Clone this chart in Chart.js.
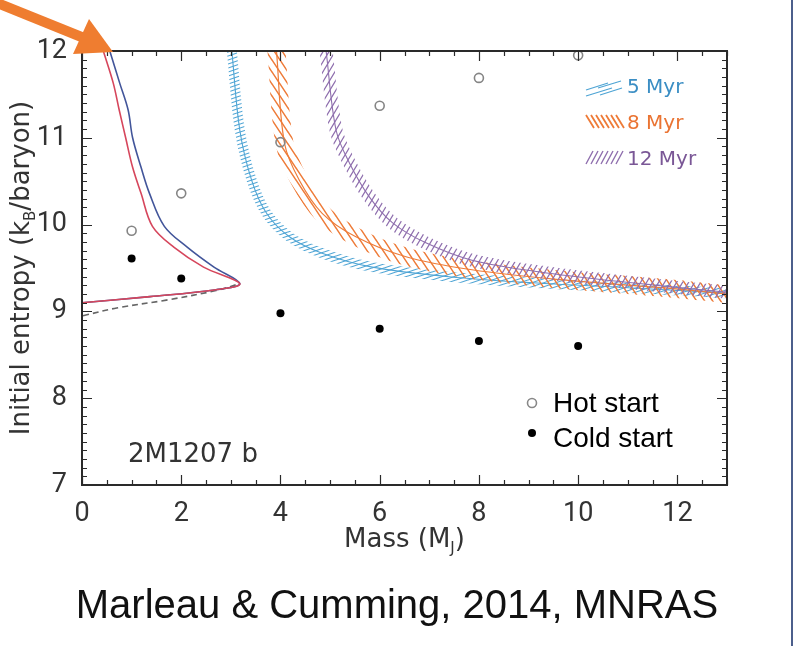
<!DOCTYPE html>
<html>
<head>
<meta charset="utf-8">
<title>2M1207 b initial entropy</title>
<script src="https://cdn.jsdelivr.net/npm/chart.js@4.4.1/dist/chart.umd.min.js"></script>
<style>
  html, body { margin: 0; padding: 0; background: #fff; overflow: hidden; }
  #wrap { position: relative; width: 794px; height: 646px; }
  #entropyChart { display: block; }
</style>
</head>
<body>
<div id="wrap"><canvas id="entropyChart" width="794" height="646"></canvas></div>
<script>
// evolutionary models for 2M1207 b
var hotMass = [1, 2, 4, 6, 8, 10];
var hotEntropy = [9.93, 10.36, 10.95, 11.37, 11.69, 11.95];
var coldMass = [1, 2, 4, 6, 8, 10];
var coldEntropy = [9.61, 9.38, 8.98, 8.80, 8.66, 8.60];

// luminosity constraint, upper and lower bound
var lumBlueMass = [0.56, 0.76, 0.93, 1.02, 1.19, 1.36, 1.66, 2.12, 2.66, 3.18, 2.7, 1.37, 0];
var lumBlueEntropy = [12.0, 11.63, 11.32, 11.0, 10.66, 10.36, 9.98, 9.74, 9.51, 9.32, 9.25, 9.17, 9.10];
var lumRedMass = [0.43, 0.63, 0.75, 0.88, 1.02, 1.19, 1.42, 1.85, 2.45, 3.18, 2.7, 1.37, 0];
var lumRedEntropy = [12.0, 11.63, 11.32, 11.0, 10.66, 10.36, 9.98, 9.74, 9.51, 9.32, 9.25, 9.17, 9.10];
var lumDashMass = [0.02, 0.7, 1.7, 2.7, 3.18];
var lumDashEntropy = [8.95, 9.04, 9.13, 9.24, 9.32];

// age isochrones
var myr5Mass = [3.02, 3.18, 3.42, 3.72, 4.18, 4.84, 5.85, 7.4, 9.07, 11.08, 13];
var myr5Entropy = [12.0, 11.09, 10.51, 10.13, 9.86, 9.67, 9.51, 9.40, 9.33, 9.27, 9.21];
var myr8Mass = [3.92, 4.08, 4.38, 4.84, 5.52, 6.53, 7.86, 9.75, 11.76, 13];
var myr8Entropy = [12.0, 10.94, 10.51, 10.13, 9.86, 9.63, 9.48, 9.36, 9.27, 9.20];
var myr12Mass = [4.92, 5.12, 5.39, 5.79, 6.26, 6.93, 7.86, 9.41, 11.08, 13];
var myr12Entropy = [12.0, 11.09, 10.71, 10.32, 10.02, 9.79, 9.59, 9.44, 9.33, 9.22];

var ageLabels = ['5 Myr', '8 Myr', '12 Myr'];
var ageColors = ['#4fa5d5', '#ee7b38', '#8f6fae'];
var ageText = ['#3b8ec4', '#ea7433', '#7a5796'];
var sampleLabels = ['Hot start', 'Cold start'];

function pts(xs, ys) {
  var out = [];
  for (var i = 0; i < xs.length; i++) out.push({x: xs[i], y: ys[i]});
  return out;
}

// repeating line-fill tile; a thick stroke painted with it gives a hatched band
function hatch(color, w, h, rising, lw) {
  var c = document.createElement('canvas');
  c.width = w; c.height = h;
  var g = c.getContext('2d');
  g.strokeStyle = color;
  g.lineWidth = lw;
  g.beginPath();
  for (var ox = -w; ox <= w; ox += w) {
    for (var oy = -h; oy <= h; oy += h) {
      if (rising) { g.moveTo(ox, oy + h); g.lineTo(ox + w, oy); }
      else { g.moveTo(ox, oy); g.lineTo(ox + w, oy + h); }
    }
  }
  g.stroke();
  return g.createPattern(c, 'repeat');
}

function curve(data, color, width, dash, order) {
  return {
    data: data,
    showLine: true,
    borderColor: color,
    borderWidth: width,
    borderDash: dash || [],
    pointRadius: 0,
    tension: 0.35,
    fill: false,
    clip: 0,
    order: order
  };
}

var FONT = '"DejaVu Sans", sans-serif';

// ticks pointing into the box on all four sides, plus the frame
var framePlugin = {
  id: 'framePlugin',
  afterDatasetsDraw: function (chart) {
    var ctx = chart.ctx, a = chart.chartArea;
    var sx = chart.scales.x, sy = chart.scales.y;
    ctx.save();
    ctx.strokeStyle = '#2a2a2a';
    ctx.lineWidth = 1.2;
    ctx.beginPath();
    for (var i = 0; i <= 26; i++) {
      var px = Math.round(sx.getPixelForValue(i / 2)) + 0.5;
      var len = (i % 4 === 0) ? 10 : 5;
      ctx.moveTo(px, a.bottom); ctx.lineTo(px, a.bottom - len);
      ctx.moveTo(px, a.top); ctx.lineTo(px, a.top + len);
    }
    for (var j = 70; j <= 120; j++) {
      var py = Math.round(sy.getPixelForValue(j / 10)) + 0.5;
      var l2 = (j % 10 === 0) ? 10 : 5;
      ctx.moveTo(a.left, py); ctx.lineTo(a.left + l2, py);
      ctx.moveTo(a.right, py); ctx.lineTo(a.right - l2, py);
    }
    ctx.stroke();
    ctx.lineWidth = 2;
    ctx.strokeRect(a.left, a.top, a.right - a.left, a.bottom - a.top);
    ctx.restore();
  }
};

// text with a lowered subscript part, centred on x
function subText(ctx, parts, x, y) {
  var total = 0, widths = [];
  parts.forEach(function (p) {
    ctx.font = (p.sub ? '15px ' : '26px ') + FONT;
    var w = ctx.measureText(p.t).width;
    widths.push(w); total += w;
  });
  var cx = x - total / 2;
  parts.forEach(function (p, k) {
    ctx.font = (p.sub ? '15px ' : '26px ') + FONT;
    ctx.fillText(p.t, cx, y + (p.sub ? 6 : 0));
    cx += widths[k];
  });
}

var notesPlugin = {
  id: 'notesPlugin',
  afterDraw: function (chart) {
    var ctx = chart.ctx, a = chart.chartArea;
    ctx.save();
    ctx.fillStyle = '#333';
    ctx.textAlign = 'left';
    ctx.textBaseline = 'alphabetic';

    // axis titles
    subText(ctx, [{t: 'Mass (M'}, {t: 'J', sub: true}, {t: ')'}], (a.left + a.right) / 2, 547);
    ctx.save();
    ctx.translate(29, (a.top + a.bottom) / 2);
    ctx.rotate(-Math.PI / 2);
    subText(ctx, [{t: 'Initial entropy (k'}, {t: 'B', sub: true}, {t: '/baryon)'}], 0, 0);
    ctx.restore();

    ctx.font = '26px ' + FONT;
    ctx.fillText('2M1207 b', 128, 462);

    // age legend with hatch swatches
    ctx.lineWidth = 1.3;
    ctx.strokeStyle = ageColors[0];
    ctx.beginPath();
    [[586, 90, 608, 83], [598, 88, 621, 81], [586, 96, 612, 88], [600, 95, 622, 88]].forEach(function (s) {
      ctx.moveTo(s[0], s[1]); ctx.lineTo(s[2], s[3]);
    });
    ctx.stroke();
    ctx.strokeStyle = ageColors[1];
    ctx.lineWidth = 1.8;
    ctx.beginPath();
    for (var i = 0; i < 7; i++) { ctx.moveTo(586 + i * 5, 115); ctx.lineTo(594 + i * 5, 128); }
    ctx.stroke();
    ctx.strokeStyle = ageColors[2];
    ctx.lineWidth = 1.4;
    ctx.beginPath();
    for (var k = 0; k < 7; k++) { ctx.moveTo(586 + k * 5, 164); ctx.lineTo(593 + k * 5, 151); }
    ctx.stroke();
    ctx.font = '20px ' + FONT;
    [93, 129, 165].forEach(function (yy, n) {
      ctx.fillStyle = ageText[n];
      ctx.fillText(ageLabels[n], 627, yy);
    });

    // model legend
    ctx.strokeStyle = '#888';
    ctx.lineWidth = 1.6;
    ctx.beginPath(); ctx.arc(532, 403, 4.5, 0, Math.PI * 2); ctx.stroke();
    ctx.fillStyle = '#000';
    ctx.beginPath(); ctx.arc(532, 433, 4, 0, Math.PI * 2); ctx.fill();
    ctx.font = '28px "Liberation Sans", Arial, sans-serif';
    ctx.fillText(sampleLabels[0], 553, 412);
    ctx.fillText(sampleLabels[1], 553, 447);

    // citation
    ctx.textAlign = 'center';
    ctx.font = '40px "Liberation Sans", Arial, sans-serif';
    ctx.fillStyle = '#111';
    ctx.fillText('Marleau & Cumming, 2014, MNRAS', 397, 618);

    // orange pointer
    ctx.fillStyle = '#ef7d30';
    ctx.strokeStyle = '#ef7d30';
    ctx.lineWidth = 10;
    ctx.beginPath(); ctx.moveTo(-10, 0); ctx.lineTo(84, 38); ctx.stroke();
    ctx.beginPath();
    ctx.moveTo(89, 19); ctx.lineTo(113, 52); ctx.lineTo(73, 54); ctx.closePath();
    ctx.fill();

    // slide edge
    ctx.strokeStyle = '#4c5f8c';
    ctx.lineWidth = 2;
    ctx.beginPath(); ctx.moveTo(792, 0); ctx.lineTo(792, 646); ctx.stroke();
    ctx.restore();
  }
};

var hatch5 = hatch(ageColors[0], 12, 4, true, 1.1);
var hatch8 = hatch(ageColors[1], 8, 12, false, 1.5);
var hatch12 = hatch(ageColors[2], 6, 10, true, 1.2);

var ctx = document.getElementById('entropyChart').getContext('2d');
var chart = new Chart(ctx, {
  type: 'scatter',
  data: {
    datasets: [
      curve(pts(myr5Mass, myr5Entropy), hatch5, 10, null, 9),
      curve(pts(myr5Mass, myr5Entropy), ageColors[0], 1.1, null, 8),
      curve(pts(myr8Mass, myr8Entropy), hatch8, 18, null, 7),
      curve(pts(myr8Mass, myr8Entropy), ageColors[1], 1.2, null, 6),
      curve(pts(myr12Mass, myr12Entropy), hatch12, 13, null, 5),
      curve(pts(myr12Mass, myr12Entropy), ageColors[2], 1.1, null, 4),
      curve(pts(lumDashMass, lumDashEntropy), '#666', 1.6, [6, 4], 3),
      curve(pts(lumBlueMass, lumBlueEntropy), '#42559a', 1.6, null, 2),
      curve(pts(lumRedMass, lumRedEntropy), '#d6465c', 1.6, null, 1),
      {
        data: pts(hotMass, hotEntropy),
        pointRadius: 4.5,
        pointBorderWidth: 1.6,
        pointBorderColor: '#858585',
        pointBackgroundColor: 'rgba(255,255,255,0)',
        clip: 8,
        order: 0
      },
      {
        data: pts(coldMass, coldEntropy),
        pointRadius: 4,
        pointBorderWidth: 0,
        pointBackgroundColor: '#000',
        clip: 8,
        order: 0
      }
    ]
  },
  options: {
    responsive: false,
    animation: false,
    layout: { padding: { left: 0, top: 51, right: 67, bottom: 91 } },
    plugins: { legend: { display: false }, tooltip: { enabled: false } },
    scales: {
      x: {
        type: 'linear',
        min: 0,
        max: 13,
        grid: { display: false },
        border: { display: false },
        ticks: {
          stepSize: 2,
          includeBounds: false,
          padding: 5,
          color: '#333',
          font: { family: 'Roboto', size: 27 }
        },
        afterFit: function (axis) { axis.height = 70; }
      },
      y: {
        type: 'linear',
        min: 7,
        max: 12,
        grid: { display: false },
        border: { display: false },
        ticks: {
          stepSize: 1,
          padding: 7,
          color: '#333',
          font: { family: 'Roboto', size: 27 }
        },
        afterFit: function (axis) { axis.width = 82; }
      }
    }
  },
  plugins: [framePlugin, notesPlugin]
});
</script>
</body>
</html>
